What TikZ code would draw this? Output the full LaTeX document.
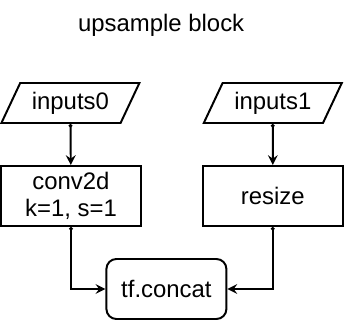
\documentclass[tikz,border=0pt]{standalone}
\usepackage{fontspec}
\setmainfont{Liberation Sans}
\usetikzlibrary{shapes.geometric,arrows.meta}

\begin{document}
\begin{tikzpicture}[
		line width=1.4pt,
		font=\fontsize{17}{19.7}\selectfont,
		flow/.style={{Circle[length=2.5pt]}-{Stealth[length=7pt,width=7pt,inset=2.5pt]}},
		inputnode/.style={trapezium,trapezium left angle=56,trapezium right angle=124,trapezium stretches body,draw,minimum width=3.45cm,minimum height=1cm,inner sep=2pt},
		opnode/.style={rectangle,draw,minimum width=3.5cm,minimum height=1.5cm,align=center,inner sep=2pt},
		catnode/.style={rectangle,rounded corners=0.25cm,draw,minimum width=3cm,minimum height=1.5cm}]
		
		\useasboundingbox (0,0) rectangle (8.6,-8);
		\node (title) at (4.03,-0.64) {upsample block};
		
		\node[inputnode] (in0) at (1.76,-2.575) {inputs0};
		\node[opnode] (conv) at (1.775,-4.9) {conv2d\\k=1, s=1};
		
		\node[inputnode] (in1) at (6.82,-2.575) {inputs1};
		\node[opnode] (res) at (6.82,-4.9) {resize};
		
		\node[catnode] (cat) at (4.16,-7.225) {tf.concat};
		
		\draw[flow] (in0) to (conv);
		\draw[flow] (in1) to (res);
		\draw[flow] (conv) |- (cat);
		\draw[flow] (res) |- (cat);
		
	\end{tikzpicture}
\end{document}
